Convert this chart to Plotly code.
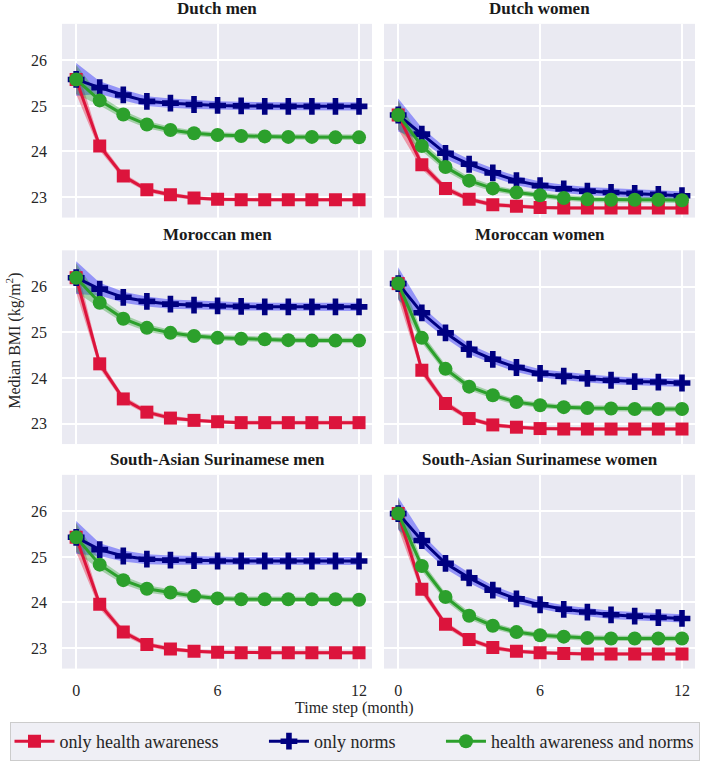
import plotly.graph_objects as go
from plotly.subplots import make_subplots

W, H = 709, 761

months = list(range(13))
x_ticks = [0, 6, 12]
y_ticks = [23, 24, 25, 26]

panel_titles = ["Dutch men", "Dutch women", "Moroccan men", "Moroccan women",
                "South-Asian Surinamese men", "South-Asian Surinamese women"]

series_names = ["only health awareness", "only norms", "health awareness and norms"]

# only health awareness (red squares)
dutch_men_health = [25.58, 24.12, 23.46, 23.16, 23.05, 22.98, 22.95, 22.94, 22.94, 22.94, 22.94, 22.94, 22.94]
dutch_women_health = [24.80, 23.71, 23.19, 22.95, 22.83, 22.80, 22.77, 22.76, 22.76, 22.76, 22.76, 22.76, 22.76]
moroccan_men_health = [26.20, 24.31, 23.54, 23.25, 23.12, 23.07, 23.04, 23.02, 23.02, 23.02, 23.02, 23.02, 23.02]
moroccan_women_health = [26.07, 24.17, 23.44, 23.11, 22.97, 22.92, 22.89, 22.88, 22.88, 22.88, 22.88, 22.88, 22.88]
sa_men_health = [25.43, 23.96, 23.35, 23.08, 22.98, 22.93, 22.91, 22.90, 22.90, 22.90, 22.90, 22.90, 22.90]
sa_women_health = [25.95, 24.29, 23.52, 23.19, 23.01, 22.93, 22.90, 22.88, 22.87, 22.87, 22.87, 22.87, 22.87]

# only norms (navy plus)
dutch_men_norms = [25.58, 25.40, 25.24, 25.10, 25.06, 25.03, 25.01, 25.00, 24.99, 24.99, 24.99, 24.99, 24.99]
dutch_women_norms = [24.80, 24.38, 23.96, 23.72, 23.53, 23.36, 23.25, 23.18, 23.13, 23.10, 23.08, 23.06, 23.03]
moroccan_men_norms = [26.20, 25.95, 25.77, 25.68, 25.62, 25.60, 25.58, 25.57, 25.56, 25.56, 25.56, 25.56, 25.56]
moroccan_women_norms = [26.07, 25.43, 24.99, 24.63, 24.41, 24.23, 24.10, 24.04, 23.99, 23.95, 23.92, 23.91, 23.89]
sa_men_norms = [25.43, 25.16, 25.02, 24.95, 24.93, 24.92, 24.91, 24.91, 24.91, 24.91, 24.91, 24.91, 24.91]
sa_women_norms = [25.95, 25.36, 24.86, 24.54, 24.27, 24.08, 23.95, 23.85, 23.79, 23.73, 23.70, 23.67, 23.65]

# health awareness and norms (green circles)
dutch_men_both = [25.58, 25.12, 24.81, 24.59, 24.47, 24.40, 24.36, 24.34, 24.33, 24.32, 24.32, 24.31, 24.31]
dutch_women_both = [24.80, 24.12, 23.66, 23.36, 23.19, 23.10, 23.04, 22.98, 22.95, 22.94, 22.94, 22.94, 22.93]
moroccan_men_both = [26.20, 25.65, 25.30, 25.10, 24.99, 24.92, 24.88, 24.86, 24.85, 24.83, 24.82, 24.82, 24.82]
moroccan_women_both = [26.07, 24.88, 24.20, 23.81, 23.62, 23.47, 23.40, 23.36, 23.34, 23.33, 23.32, 23.32, 23.32]
sa_men_both = [25.43, 24.83, 24.49, 24.30, 24.22, 24.14, 24.09, 24.07, 24.07, 24.07, 24.07, 24.07, 24.06]
sa_women_both = [25.95, 24.80, 24.12, 23.71, 23.49, 23.35, 23.28, 23.25, 23.22, 23.21, 23.21, 23.21, 23.21]

# half-widths of the shaded uncertainty bands
spread_health = [0.32, 0.10, 0.07, 0.05, 0.05, 0.04, 0.04, 0.04, 0.04, 0.04, 0.04, 0.04, 0.04]
spread_norms = [0.36, 0.14, 0.12, 0.11, 0.10, 0.10, 0.09, 0.09, 0.09, 0.09, 0.09, 0.09, 0.09]
spread_both = [0.32, 0.11, 0.09, 0.08, 0.07, 0.06, 0.06, 0.06, 0.06, 0.06, 0.06, 0.06, 0.06]

panels = [
    (dutch_men_health, dutch_men_norms, dutch_men_both),
    (dutch_women_health, dutch_women_norms, dutch_women_both),
    (moroccan_men_health, moroccan_men_norms, moroccan_men_both),
    (moroccan_women_health, moroccan_women_norms, moroccan_women_both),
    (sa_men_health, sa_men_norms, sa_men_both),
    (sa_women_health, sa_women_norms, sa_women_both),
]
spreads = [spread_health, spread_norms, spread_both]

colors = ["#DC143C", "#000080", "#2CA02C"]
band_colors = ["rgba(235,30,60,0.40)", "rgba(20,20,255,0.40)", "rgba(44,160,44,0.38)"]
symbols = ["square", "cross", "circle"]
msizes = [13, 14, 14]
NBSP = "\u00a0"
legend_labels = [series_names[0] + NBSP * 9, series_names[1] + NBSP * 9, series_names[2]]

fig = make_subplots(rows=3, cols=2)

FONT = "Liberation Serif"

# pixel layout of plot areas
col_px = [(62, 372), (384, 695)]
row_px = [(24, 219), (252, 447), (478, 673)]

for i, data in enumerate(panels):
    r, c = i // 2 + 1, i % 2 + 1
    for k in range(3):
        vals, sp = data[k], spreads[k]
        upper = [v + s for v, s in zip(vals, sp)]
        lower = [v - s for v, s in zip(vals, sp)]
        fig.add_trace(go.Scatter(
            x=months + months[::-1], y=upper + lower[::-1],
            fill="toself", fillcolor=band_colors[k], line=dict(width=0),
            mode="lines", showlegend=False, hoverinfo="skip"), row=r, col=c)
    for k in range(3):
        fig.add_trace(go.Scatter(
            x=months, y=data[k], mode="lines+markers", name=legend_labels[k],
            line=dict(color=colors[k], width=3),
            marker=dict(symbol=symbols[k], size=msizes[k], color=colors[k], line=dict(width=0)),
            showlegend=(i == 0), legendgroup=series_names[k]), row=r, col=c)

for i in range(6):
    r, c = i // 2 + 1, i % 2 + 1
    xk = "xaxis" if i == 0 else f"xaxis{i+1}"
    yk = "yaxis" if i == 0 else f"yaxis{i+1}"
    x0, x1 = col_px[c - 1]
    y0, y1 = row_px[r - 1]
    fig.layout[xk].update(
        domain=[x0 / W, x1 / W], range=[-0.6, 12.55], tickvals=x_ticks,
        showticklabels=(r == 3), showgrid=True, gridcolor="white", gridwidth=1.5,
        zeroline=False, showline=False, ticks="", ticklabelstandoff=10,
        tickfont=dict(family=FONT, size=16, color="#262626"))
    fig.layout[yk].update(
        domain=[1 - y1 / H, 1 - y0 / H], range=[22.55, 26.8], tickvals=y_ticks,
        showticklabels=(c == 1), showgrid=True, gridcolor="white", gridwidth=1.5,
        zeroline=False, showline=False, ticks="", ticklabelstandoff=14,
        tickfont=dict(family=FONT, size=16, color="#262626"))
    fig.add_annotation(
        text=f"<b>{panel_titles[i]}</b>", xref="paper", yref="paper",
        x=(x0 + x1) / 2 / W, y=1 - y0 / H, xanchor="center", yanchor="bottom",
        yshift=4, showarrow=False, font=dict(family=FONT, size=17, color="#1a1a1a"))

fig.add_annotation(text="Time step (month)", xref="paper", yref="paper",
                   x=354.5 / W, y=1 - 713 / H, xanchor="center", yanchor="middle",
                   showarrow=False, font=dict(family=FONT, size=16, color="#262626"))
fig.add_annotation(text="Median BMI (kg/m<sup>2</sup>)", xref="paper", yref="paper",
                   x=14 / W, y=1 - 343 / H, xanchor="center", yanchor="middle",
                   textangle=-90, showarrow=False,
                   font=dict(family=FONT, size=16, color="#262626"))

fig.update_layout(
    width=W, height=H, margin=dict(l=0, r=0, t=0, b=0),
    paper_bgcolor="white", plot_bgcolor="#EAEAF2",
    font=dict(family=FONT, size=16, color="#262626"),
    legend=dict(orientation="h", x=354.5 / W, xanchor="center", y=1 - 727 / H, yanchor="top",
                bgcolor="#EFEFF5", bordercolor="#CCCCCC", borderwidth=1,
                font=dict(family=FONT, size=18, color="#262626"),
                itemwidth=40, tracegroupgap=0),
    showlegend=True,
)

fig.write_html("out.html", config={"displayModeBar": False},
               post_script="document.body.style.margin='0';document.body.style.overflow='hidden';")
